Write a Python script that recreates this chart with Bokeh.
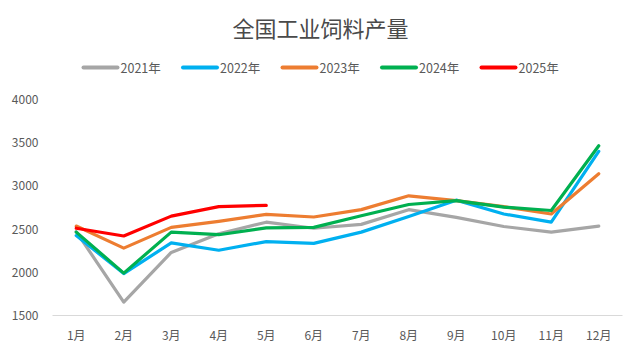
from bokeh.plotting import figure
from bokeh.models import FixedTicker, Range1d
from bokeh.core.properties import value
from bokeh.layouts import column
from bokeh.embed import file_html
from bokeh.resources import INLINE

title = "全国工业饲料产量"
months = ["1月", "2月", "3月", "4月", "5月", "6月", "7月", "8月", "9月", "10月", "11月", "12月"]
y2021 = [2470, 1655, 2230, 2445, 2580, 2510, 2555, 2725, 2635, 2530, 2465, 2535]
y2022 = [2425, 1985, 2340, 2255, 2355, 2335, 2465, 2645, 2835, 2675, 2580, 3400]
y2023 = [2535, 2280, 2520, 2590, 2670, 2640, 2725, 2885, 2830, 2760, 2675, 3140]
y2024 = [2465, 1990, 2465, 2435, 2515, 2520, 2655, 2785, 2830, 2755, 2715, 3465]
y2025 = [2510, 2420, 2650, 2760, 2775]
names = ["2021年", "2022年", "2023年", "2024年", "2025年"]
colors = ["#A6A6A6", "#00B0F0", "#ED7D31", "#00B050", "#FF0000"]
values = [y2021, y2022, y2023, y2024, y2025]
yticks = [1500, 2000, 2500, 3000, 3500, 4000]

FONT = "Noto Sans CJK SC"
LW = 3.2
BL, BR = 52, 18   # frame borders (column aligns frames of both figures)

# Header figure (title + legend); x data units == canvas pixels
H_TOP = 90
top = figure(width=640, height=H_TOP, x_range=Range1d(BL, 640 - BR), y_range=Range1d(0, H_TOP),
             output_backend="svg", toolbar_location=None,
             x_axis_location=None, y_axis_location=None,
             min_border_left=BL, min_border_right=BR, min_border_top=0, min_border_bottom=0)
top.grid.grid_line_color = None
top.outline_line_color = None
top.text(x=[320], y=[H_TOP - 26], text=[title], text_align="center", text_baseline="middle",
         text_font=value(FONT), text_font_size="22px", text_color="#4a4a4a")

leg_y = H_TOP - 67
x0s = [83 + i * 99.5 for i in range(len(names))]
x1s = [x + 34 for x in x0s]
top.segment(x0=x0s, y0=[leg_y] * len(names), x1=x1s, y1=[leg_y] * len(names),
            line_color=colors, line_width=4, line_cap="round")
top.text(x=[x + 3 for x in x1s], y=[leg_y] * len(names), text=names, text_align="left",
         text_baseline="middle", text_font=value(FONT), text_font_size="12.5px", text_color="#595959")

# Main chart
p = figure(width=640, height=354 - H_TOP, x_range=months, y_range=Range1d(1500, 4000),
           output_backend="svg", toolbar_location=None,
           min_border_left=BL, min_border_right=BR, min_border_bottom=39, min_border_top=99 - H_TOP)

for ys, color in zip(values, colors):
    p.line(months[:len(ys)], ys, line_color=color, line_width=LW, line_join="round", line_cap="round")

p.xgrid.grid_line_color = None
p.ygrid.grid_line_color = None
p.outline_line_color = None

p.xaxis.axis_line_color = "#D9D9D9"
p.xaxis.major_tick_line_color = None
p.xaxis.minor_tick_line_color = None
p.xaxis.major_label_text_font = FONT
p.xaxis.major_label_text_font_size = "12px"
p.xaxis.major_label_text_color = "#595959"
p.xaxis.major_label_standoff = 4

p.yaxis.ticker = FixedTicker(ticks=yticks)
p.yaxis.axis_line_color = None
p.yaxis.major_tick_line_color = None
p.yaxis.minor_tick_line_color = None
p.yaxis.major_label_text_font = FONT
p.yaxis.major_label_text_font_size = "12px"
p.yaxis.major_label_text_color = "#595959"
p.yaxis.major_label_standoff = 8

layout = column(top, p, spacing=0)
open("out.html", "w").write(file_html(layout, INLINE))
